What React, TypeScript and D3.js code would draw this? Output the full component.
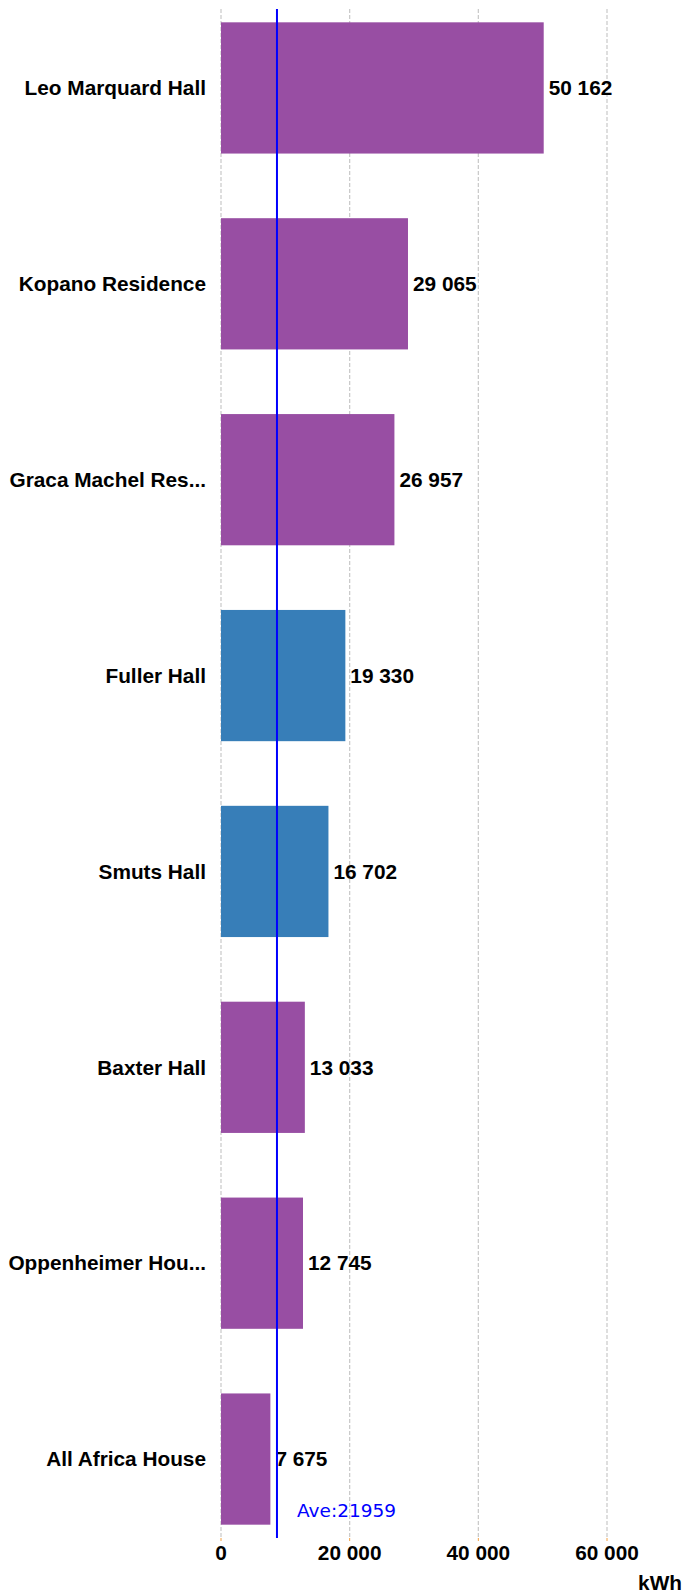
import React from "react";
import * as d3 from "d3";

const categories = [
  "Leo Marquard Hall",
  "Kopano Residence",
  "Graca Machel Res...",
  "Fuller Hall",
  "Smuts Hall",
  "Baxter Hall",
  "Oppenheimer Hou...",
  "All Africa House",
];
const values = [50162, 29065, 26957, 19330, 16702, 13033, 12745, 7675];
const groups = ["a", "a", "a", "b", "b", "a", "a", "a"];
const groupColors: Record<string, string> = { a: "#984ea3", b: "#377eb8" };
const tickValues = [0, 20000, 40000, 60000];
const averageLabel = "Ave:21959";
const averageLineAt = 8700;
const unitLabel = "kWh";

const W = 687;
const H = 1593;
const fmt = (v: number) => d3.format(",")(v).replace(/,/g, " ");

export default function App() {
  const x = d3.scaleLinear().domain([0, 60000]).range([221, 607]);
  const y = d3
    .scaleBand<string>()
    .domain(categories)
    .range([-10, 1557])
    .paddingInner(0.33)
    .paddingOuter(0.165);
  const gridTop = 9;
  const gridBottom = 1538;
  const font = "'Liberation Sans', Arial, sans-serif";
  const fs = 20.8;

  return (
    <svg
      width={W}
      height={H}
      style={{ position: "absolute", left: 0, top: 0, background: "#fff" }}
    >
      {tickValues.map((t) => (
        <g key={t}>
          <line
            x1={x(t)}
            x2={x(t)}
            y1={gridTop}
            y2={gridBottom}
            stroke="#c8c8c8"
            strokeWidth={1.2}
            strokeDasharray="4,2"
          />
          <line
            x1={x(t)}
            x2={x(t)}
            y1={gridBottom}
            y2={gridBottom + 3}
            stroke="#f5a040"
            strokeWidth={1}
          />
          <text
            x={x(t)}
            y={1560}
            textAnchor="middle"
            fontFamily={font}
            fontWeight="bold"
            fontSize={fs}
            fill="#000"
          >
            {fmt(t)}
          </text>
        </g>
      ))}
      {categories.map((c, i) => {
        const yy = y(c)!;
        const bw = y.bandwidth();
        return (
          <g key={c}>
            <rect
              x={x(0)}
              y={yy}
              width={x(values[i]) - x(0)}
              height={bw}
              fill={groupColors[groups[i]]}
            />
            <text
              x={206}
              y={yy + bw / 2}
              dy="0.35em"
              textAnchor="end"
              fontFamily={font}
              fontWeight="bold"
              fontSize={fs}
              fill="#000"
            >
              {c}
            </text>
            <text
              x={x(values[i]) + 5}
              y={yy + bw / 2}
              dy="0.35em"
              textAnchor="start"
              fontFamily={font}
              fontWeight="bold"
              fontSize={fs}
              fill="#000"
            >
              {fmt(values[i])}
            </text>
          </g>
        );
      })}
      <line
        x1={x(averageLineAt)}
        x2={x(averageLineAt)}
        y1={gridTop}
        y2={gridBottom}
        stroke="#0000ff"
        strokeWidth={2}
      />
      <text
        x={297}
        y={1517}
        fontFamily="'DejaVu Sans', Verdana, sans-serif"
        fontSize={18.5}
        fill="#0000ff"
      >
        {averageLabel}
      </text>
      <text
        x={682}
        y={1590}
        textAnchor="end"
        fontFamily={font}
        fontWeight="bold"
        fontSize={fs}
        fill="#000"
      >
        {unitLabel}
      </text>
    </svg>
  );
}
